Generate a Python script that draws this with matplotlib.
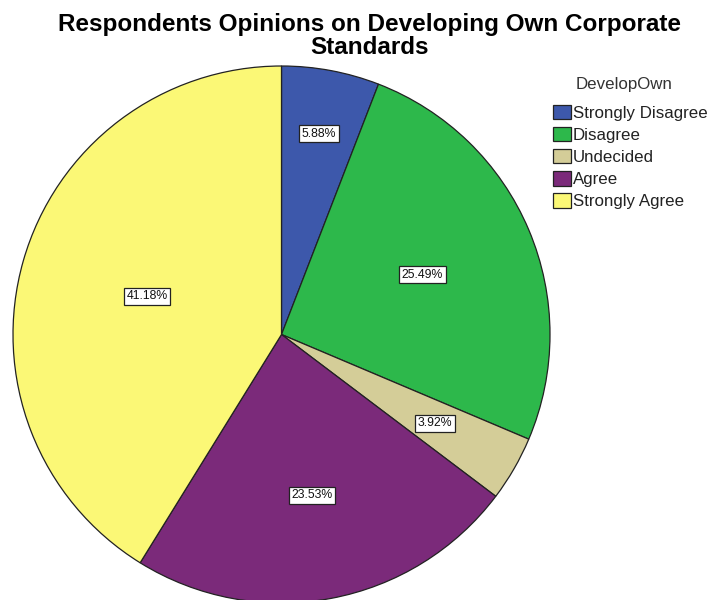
import numpy as np
import matplotlib as mpl
mpl.use('Agg')
import matplotlib.pyplot as plt
from matplotlib.patches import Patch

plt.rcParams['font.family'] = ['Liberation Sans', 'DejaVu Sans']

categories = ["Strongly Disagree", "Disagree", "Undecided", "Agree", "Strongly Agree"]
counts = [3, 13, 2, 12, 21]
colors = ["#3D58AB", "#2DB84B", "#D4CD98", "#7B2A7A", "#FBF876"]
# radial position of each percentage label (fraction of radius)
label_radius = [0.76, 0.57, 0.66, 0.61, 0.52]

fig = plt.figure(figsize=(7.11, 6.0), dpi=100)
ax = fig.add_axes([13 / 711, -3 / 600, 537 / 711, 537 / 600])

wedges, _ = ax.pie(counts, colors=colors, startangle=90, counterclock=False,
                   wedgeprops=dict(edgecolor="#222222", linewidth=0.9))
ax.set_xlim(-1, 1)
ax.set_ylim(-1, 1)
ax.set_aspect('equal')

total = sum(counts)
for w, c, r in zip(wedges, counts, label_radius):
    mid = np.deg2rad((w.theta1 + w.theta2) / 2)
    ax.text(r * np.cos(mid), r * np.sin(mid), "%.2f%%" % (100.0 * c / total),
            ha='center', va='center', fontsize=8.8, color='#111111',
            bbox=dict(boxstyle='square,pad=0.2', fc='white', ec='#222222', lw=0.9))

fig.text(0.52, 1 - 36 / 600, "Respondents Opinions on Developing Own Corporate\nStandards",
         ha='center', va='center', fontsize=17.5, fontweight='bold', linespacing=1.0)

# legend title drawn separately so the gap above the entries can be set
fig.text(624 / 711, 1 - 85 / 600, "DevelopOwn", ha='center', va='center',
         fontsize=12.2, color='#333333')
handles = [Patch(facecolor=col, edgecolor='#222222', linewidth=0.9) for col in colors]
leg = fig.legend(handles, categories, loc='upper left',
                 bbox_to_anchor=(553 / 711, 1 - 105 / 600), frameon=False,
                 fontsize=12.2, handlelength=1.07, handleheight=0.92,
                 handletextpad=0.1, labelspacing=0.36, borderaxespad=0, borderpad=0)
for t in leg.get_texts():
    t.set_color('#222222')

fig.savefig("out.png", dpi=100)
